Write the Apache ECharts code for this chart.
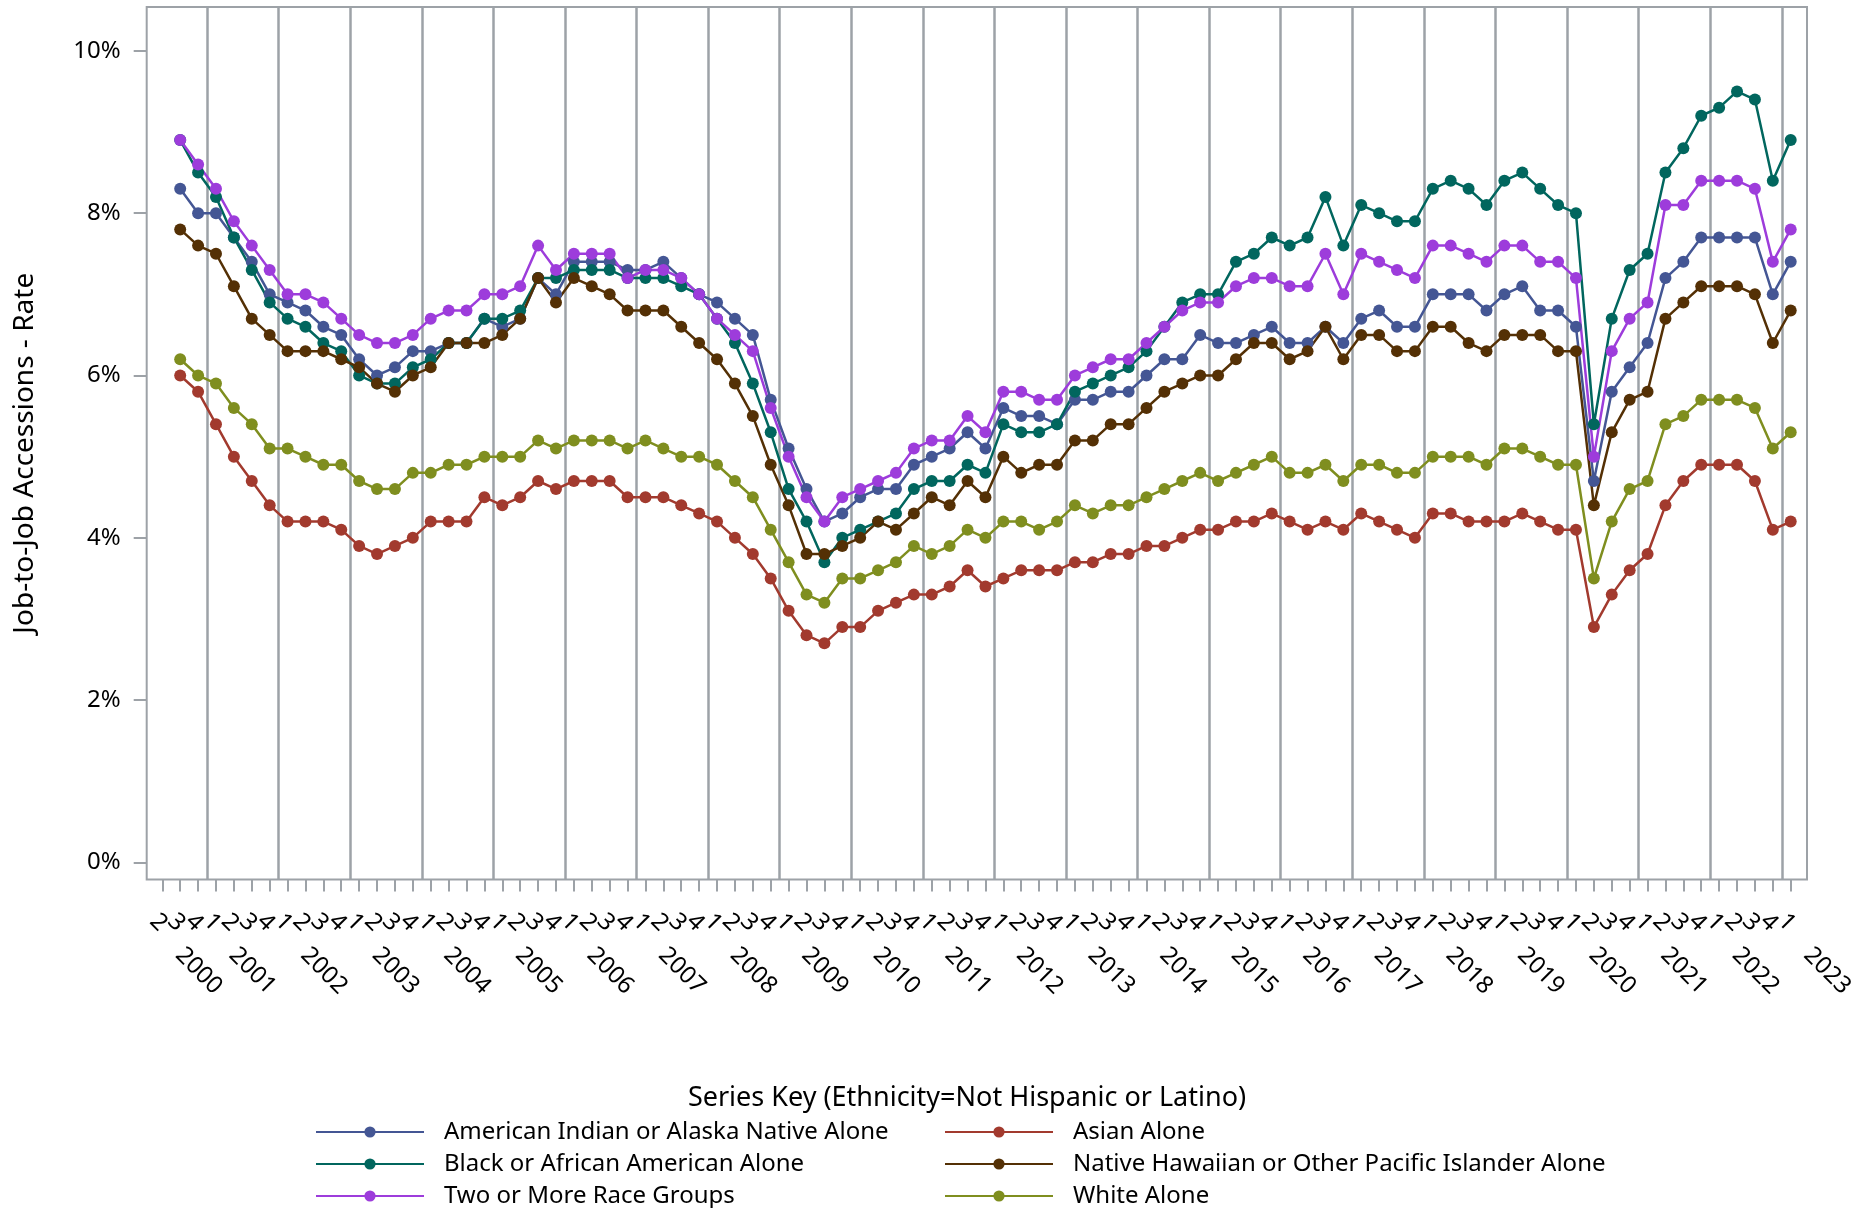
<!DOCTYPE html>
<html>
<head>
<meta charset="utf-8">
<script src="https://cdn.jsdelivr.net/npm/echarts@6/dist/echarts.min.js"></script>
<style>html,body{margin:0;padding:0;background:#fff}#c{width:1866px;height:1208px}</style>
</head>
<body>
<div id="c"></div>
<script>
const categories = [
  "2000Q2","2000Q3","2000Q4",
  "2001Q1","2001Q2","2001Q3","2001Q4",
  "2002Q1","2002Q2","2002Q3","2002Q4",
  "2003Q1","2003Q2","2003Q3","2003Q4",
  "2004Q1","2004Q2","2004Q3","2004Q4",
  "2005Q1","2005Q2","2005Q3","2005Q4",
  "2006Q1","2006Q2","2006Q3","2006Q4",
  "2007Q1","2007Q2","2007Q3","2007Q4",
  "2008Q1","2008Q2","2008Q3","2008Q4",
  "2009Q1","2009Q2","2009Q3","2009Q4",
  "2010Q1","2010Q2","2010Q3","2010Q4",
  "2011Q1","2011Q2","2011Q3","2011Q4",
  "2012Q1","2012Q2","2012Q3","2012Q4",
  "2013Q1","2013Q2","2013Q3","2013Q4",
  "2014Q1","2014Q2","2014Q3","2014Q4",
  "2015Q1","2015Q2","2015Q3","2015Q4",
  "2016Q1","2016Q2","2016Q3","2016Q4",
  "2017Q1","2017Q2","2017Q3","2017Q4",
  "2018Q1","2018Q2","2018Q3","2018Q4",
  "2019Q1","2019Q2","2019Q3","2019Q4",
  "2020Q1","2020Q2","2020Q3","2020Q4",
  "2021Q1","2021Q2","2021Q3","2021Q4",
  "2022Q1","2022Q2","2022Q3","2022Q4",
  "2023Q1"
];

const americanIndian = [null,8.3,8.0, 8.0,7.7,7.4,7.0, 6.9,6.8,6.6,6.5, 6.2,6.0,6.1,6.3, 6.3,6.4,6.4,6.7, 6.6,6.7,7.2,7.0,
  7.4,7.4,7.4,7.3, 7.3,7.4,7.2,7.0, 6.9,6.7,6.5,5.7, 5.1,4.6,4.2,4.3, 4.5,4.6,4.6,4.9, 5.0,5.1,5.3,5.1,
  5.6,5.5,5.5,5.4, 5.7,5.7,5.8,5.8, 6.0,6.2,6.2,6.5, 6.4,6.4,6.5,6.6, 6.4,6.4,6.6,6.4, 6.7,6.8,6.6,6.6,
  7.0,7.0,7.0,6.8, 7.0,7.1,6.8,6.8, 6.6,4.7,5.8,6.1, 6.4,7.2,7.4,7.7, 7.7,7.7,7.7,7.0, 7.4];
const asian = [null,6.0,5.8, 5.4,5.0,4.7,4.4, 4.2,4.2,4.2,4.1, 3.9,3.8,3.9,4.0, 4.2,4.2,4.2,4.5, 4.4,4.5,4.7,4.6,
  4.7,4.7,4.7,4.5, 4.5,4.5,4.4,4.3, 4.2,4.0,3.8,3.5, 3.1,2.8,2.7,2.9, 2.9,3.1,3.2,3.3, 3.3,3.4,3.6,3.4,
  3.5,3.6,3.6,3.6, 3.7,3.7,3.8,3.8, 3.9,3.9,4.0,4.1, 4.1,4.2,4.2,4.3, 4.2,4.1,4.2,4.1, 4.3,4.2,4.1,4.0,
  4.3,4.3,4.2,4.2, 4.2,4.3,4.2,4.1, 4.1,2.9,3.3,3.6, 3.8,4.4,4.7,4.9, 4.9,4.9,4.7,4.1, 4.2];
const black = [null,8.9,8.5, 8.2,7.7,7.3,6.9, 6.7,6.6,6.4,6.3, 6.0,5.9,5.9,6.1, 6.2,6.4,6.4,6.7, 6.7,6.8,7.2,7.2,
  7.3,7.3,7.3,7.2, 7.2,7.2,7.1,7.0, 6.7,6.4,5.9,5.3, 4.6,4.2,3.7,4.0, 4.1,4.2,4.3,4.6, 4.7,4.7,4.9,4.8,
  5.4,5.3,5.3,5.4, 5.8,5.9,6.0,6.1, 6.3,6.6,6.9,7.0, 7.0,7.4,7.5,7.7, 7.6,7.7,8.2,7.6, 8.1,8.0,7.9,7.9,
  8.3,8.4,8.3,8.1, 8.4,8.5,8.3,8.1, 8.0,5.4,6.7,7.3, 7.5,8.5,8.8,9.2, 9.3,9.5,9.4,8.4, 8.9];
const nativeHawaiian = [null,7.8,7.6, 7.5,7.1,6.7,6.5, 6.3,6.3,6.3,6.2, 6.1,5.9,5.8,6.0, 6.1,6.4,6.4,6.4, 6.5,6.7,7.2,6.9,
  7.2,7.1,7.0,6.8, 6.8,6.8,6.6,6.4, 6.2,5.9,5.5,4.9, 4.4,3.8,3.8,3.9, 4.0,4.2,4.1,4.3, 4.5,4.4,4.7,4.5,
  5.0,4.8,4.9,4.9, 5.2,5.2,5.4,5.4, 5.6,5.8,5.9,6.0, 6.0,6.2,6.4,6.4, 6.2,6.3,6.6,6.2, 6.5,6.5,6.3,6.3,
  6.6,6.6,6.4,6.3, 6.5,6.5,6.5,6.3, 6.3,4.4,5.3,5.7, 5.8,6.7,6.9,7.1, 7.1,7.1,7.0,6.4, 6.8];
const twoOrMore = [null,8.9,8.6, 8.3,7.9,7.6,7.3, 7.0,7.0,6.9,6.7, 6.5,6.4,6.4,6.5, 6.7,6.8,6.8,7.0, 7.0,7.1,7.6,7.3,
  7.5,7.5,7.5,7.2, 7.3,7.3,7.2,7.0, 6.7,6.5,6.3,5.6, 5.0,4.5,4.2,4.5, 4.6,4.7,4.8,5.1, 5.2,5.2,5.5,5.3,
  5.8,5.8,5.7,5.7, 6.0,6.1,6.2,6.2, 6.4,6.6,6.8,6.9, 6.9,7.1,7.2,7.2, 7.1,7.1,7.5,7.0, 7.5,7.4,7.3,7.2,
  7.6,7.6,7.5,7.4, 7.6,7.6,7.4,7.4, 7.2,5.0,6.3,6.7, 6.9,8.1,8.1,8.4, 8.4,8.4,8.3,7.4, 7.8];
const white = [null,6.2,6.0, 5.9,5.6,5.4,5.1, 5.1,5.0,4.9,4.9, 4.7,4.6,4.6,4.8, 4.8,4.9,4.9,5.0, 5.0,5.0,5.2,5.1,
  5.2,5.2,5.2,5.1, 5.2,5.1,5.0,5.0, 4.9,4.7,4.5,4.1, 3.7,3.3,3.2,3.5, 3.5,3.6,3.7,3.9, 3.8,3.9,4.1,4.0,
  4.2,4.2,4.1,4.2, 4.4,4.3,4.4,4.4, 4.5,4.6,4.7,4.8, 4.7,4.8,4.9,5.0, 4.8,4.8,4.9,4.7, 4.9,4.9,4.8,4.8,
  5.0,5.0,5.0,4.9, 5.1,5.1,5.0,4.9, 4.9,3.5,4.2,4.6, 4.7,5.4,5.5,5.7, 5.7,5.7,5.6,5.1, 5.3];

const yTickValues = [0, 2, 4, 6, 8, 10];
const seriesNames = [
  "American Indian or Alaska Native Alone",
  "Asian Alone",
  "Black or African American Alone",
  "Native Hawaiian or Other Pacific Islander Alone",
  "Two or More Race Groups",
  "White Alone"
];
const seriesData = [americanIndian, asian, black, nativeHawaiian, twoOrMore, white];
const colors = ["#445694", "#A23A2E", "#01665E", "#543005", "#9D3CDB", "#7F8E1F"];

const FONT = "Noto Sans";
const GRAY = "#9da2a7";
const Y_MIN = -0.21, Y_MAX = 10.54;

const chart = echarts.init(document.getElementById('c'), null, {renderer: 'canvas'});
chart.setOption({
  animation: false,
  backgroundColor: '#fff',
  textStyle: {fontFamily: FONT, color: '#000'},
  grid: [
    {left: 153.35, right: 66.35, top: 7, bottom: 328.5, outerBoundsMode: 'none'},
    {left: 146.7, right: 59, top: 7, bottom: 328.5, show: true, borderColor: GRAY, borderWidth: 2, backgroundColor: 'transparent', outerBoundsMode: 'none'}
  ],
  xAxis: [
    {
      gridIndex: 0, type: 'category', data: categories, boundaryGap: true, position: 'bottom', offset: 0,
      axisLine: {show: false, onZero: false},
      axisTick: {show: true, inside: false, alignWithLabel: true, interval: 0, length: 12, lineStyle: {color: GRAY, width: 2}},
      axisLabel: {
        interval: 0, rotate: -45, align: 'center', verticalAlign: 'middle', margin: 47,
        padding: [11, 11, 0, 0], fontSize: 24, color: '#000', fontFamily: FONT,
        formatter: v => v.slice(5)
      },
      splitLine: {show: true, interval: (i, v) => v.slice(4) === 'Q1', showMaxLine: false,
        lineStyle: {color: GRAY, width: 2.5}}
    },
    {
      gridIndex: 0, type: 'category', data: categories, boundaryGap: true, position: 'bottom', offset: 0,
      axisLine: {show: false, onZero: false}, axisTick: {show: false}, splitLine: {show: false},
      axisLabel: {
        interval: (i, v) => i === 0 || v.slice(4) === 'Q1',
        rotate: -45, align: 'left', verticalAlign: 'middle', margin: 55,
        padding: [0, 0, 0, 24], fontSize: 24, color: '#000', fontFamily: FONT,
        formatter: v => v.slice(0, 4)
      }
    },
    {gridIndex: 1, type: 'value', show: false, min: 0, max: 1, axisLine: {onZero: false}}
  ],
  yAxis: [
    {gridIndex: 0, type: 'value', min: Y_MIN, max: Y_MAX, show: false},
    {
      gridIndex: 1, type: 'value', min: Y_MIN, max: Y_MAX,
      axisLine: {show: false, onZero: false},
      axisTick: {show: true, length: 13, customValues: yTickValues, lineStyle: {color: GRAY, width: 2}},
      axisLabel: {customValues: yTickValues, formatter: v => v + '%', margin: 26, fontSize: 24, color: '#000', fontFamily: FONT},
      splitLine: {show: false},
      name: 'Job-to-Job Accessions - Rate', nameLocation: 'middle', nameGap: 108,
      nameTextStyle: {fontSize: 28, color: '#000', fontFamily: FONT, padding: [0, 20, 0, 0]}
    }
  ],
  legend: [
    {
      data: [seriesNames[0], seriesNames[2], seriesNames[4]],
      orient: 'vertical', left: 315, top: 1120, padding: 0, itemWidth: 108, itemHeight: 14, itemGap: 8,
      selectedMode: false,
      textStyle: {fontSize: 24, lineHeight: 24, color: '#000', fontFamily: FONT, padding: [0, 0, 0, 15]}
    },
    {
      data: [seriesNames[1], seriesNames[3], seriesNames[5]],
      orient: 'vertical', left: 944, top: 1120, padding: 0, itemWidth: 108, itemHeight: 14, itemGap: 8,
      selectedMode: false,
      textStyle: {fontSize: 24, lineHeight: 24, color: '#000', fontFamily: FONT, padding: [0, 0, 0, 15]}
    }
  ],
  graphic: [
    {type: 'text', x: 967, y: 1098,
      style: {text: 'Series Key (Ethnicity=Not Hispanic or Latino)', fontSize: 27, fontFamily: FONT, fill: '#000',
        align: 'center', verticalAlign: 'middle', textAlign: 'center', textVerticalAlign: 'middle'}}
  ],
  series: seriesNames.map((name, k) => ({
    name: name, type: 'line', xAxisIndex: 0, yAxisIndex: 0,
    data: seriesData[k], color: colors[k],
    symbol: 'circle', symbolSize: 12, showAllSymbol: true, connectNulls: false,
    lineStyle: {width: 2.5, color: colors[k]},
    itemStyle: {color: colors[k], borderWidth: 0},
    emphasis: {disabled: true}
  }))
});
</script>
</body>
</html>
